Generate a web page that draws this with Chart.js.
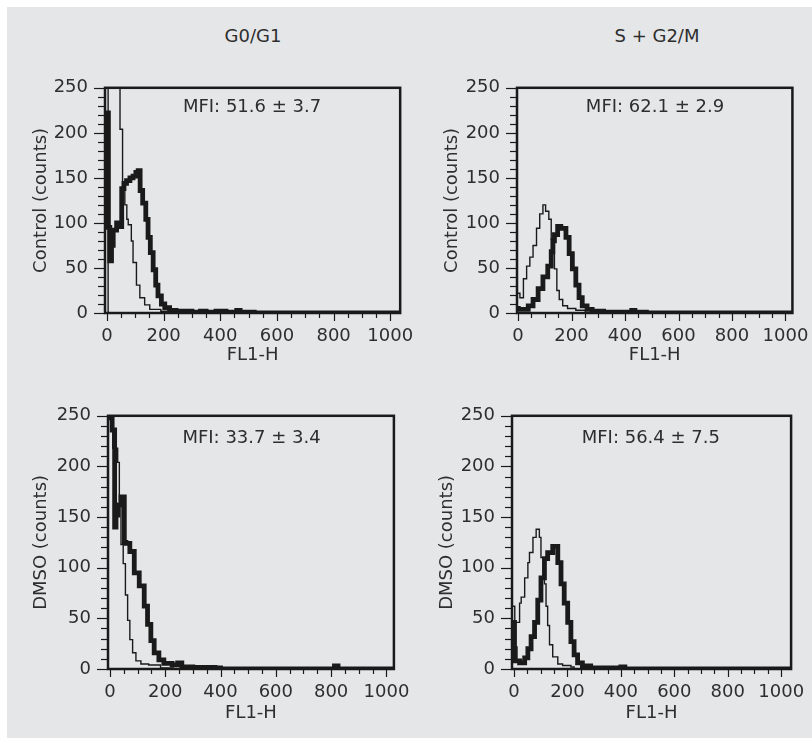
<!DOCTYPE html>
<html>
<head>
<meta charset="utf-8">
<script src="https://cdn.jsdelivr.net/npm/chart.js@4.4.0/dist/chart.umd.min.js"></script>
<style>
  html, body { margin: 0; padding: 0; background: #fff; overflow: hidden; width: 812px; height: 738px; }
  #sheet { position: absolute; left: 7px; top: 7px; width: 805px; height: 731px; background: #e5e6e8; }
  canvas { position: absolute; }
  .col { position: absolute; top: 25px; width: 200px; text-align: center; line-height: 21px;
         font: 18px "DejaVu Sans", sans-serif; color: #2e2e2e; }
</style>
</head>
<body>
<div id="sheet"></div>
<div class="col" style="left:153px">G0/G1</div>
<div class="col" style="left:557px">S + G2/M</div>
<canvas id="c1" width="407" height="310" style="left:20px;top:60px"></canvas>
<canvas id="c2" width="391" height="310" style="left:431px;top:60px"></canvas>
<canvas id="c3" width="403" height="340" style="left:20px;top:388px"></canvas>
<canvas id="c4" width="392" height="340" style="left:426px;top:388px"></canvas>
<script>
// ==================== DATA ====================
// FL1-H (start of each step) and counts
// thin = unstained, thick = stained

// Control, G0/G1
const ctlG1ThinX = [-7, 4, 46, 55, 63, 70, 75, 86, 92, 104, 116, 133, 151, 190, 227, 1035];
const ctlG1ThinY = [0, 250, 204, 140, 120, 104, 98, 80, 56, 31, 17, 9, 4, 2, 0, 0];
const ctlG1ThickX = [-7, 5, 10, 16, 22, 34, 45, 52, 60, 69, 81, 92, 102, 110, 117, 126, 137, 145, 153, 163,
  172, 180, 192, 204, 221, 244, 300, 330, 350, 385, 420, 458, 470, 520, 1035];
const ctlG1ThickY = [222, 95, 58, 75, 92, 100, 96, 138, 144, 147, 150, 152, 156, 158, 136, 122, 104, 84, 67, 48,
  31, 19, 10, 6, 3, 2, 1, 2, 1, 2, 1, 3, 1, 0, 0];

// Control, S + G2/M
const ctlSThinX = [-4, 7, 20, 32, 44, 56, 69, 81, 93, 103, 115, 124, 136, 145, 154, 167, 185, 216, 252, 1026];
const ctlSThinY = [22, 17, 38, 52, 62, 75, 94, 110, 120, 113, 104, 82, 49, 25, 15, 8, 5, 3, 0, 0];
const ctlSThickX = [-4, 1, 38, 56, 75, 93, 111, 124, 130, 136, 148, 160, 179, 191, 203, 216, 228, 240, 258, 277,
  320, 400, 425, 437, 480, 1026];
const ctlSThickY = [5, 4, 8, 15, 27, 40, 52, 68, 80, 87, 96, 94, 84, 66, 49, 31, 17, 8, 4, 2,
  1, 1, 3, 1, 0, 0];

// DMSO, G0/G1
const dmsoG1ThinX = [-7, 10, 28, 34, 40, 48, 56, 64, 72, 82, 94, 112, 140, 183, 230, 1027];
const dmsoG1ThinY = [250, 218, 204, 166, 123, 104, 73, 48, 29, 16, 8, 5, 4, 1, 0, 0];
const dmsoG1ThickX = [-7, 8, 17, 22, 29, 40, 52, 58, 72, 88, 106, 124, 136, 148, 160, 177, 195, 225, 245, 260,
  300, 380, 400, 812, 825, 1027];
const dmsoG1ThickY = [248, 236, 140, 152, 162, 170, 125, 124, 116, 95, 82, 62, 44, 28, 16, 9, 5.5, 4, 6, 2,
  1.5, 1, 0, 3, 0, 0];

// DMSO, S + G2/M
const dmsoSThinX = [-4, 3, 21, 27, 40, 52, 58, 71, 83, 95, 101, 114, 120, 126, 133, 145, 164, 182, 213, 225, 1037];
const dmsoSThinY = [62, 46, 65, 71, 90, 105, 115, 130, 138, 130, 110, 84, 62, 43, 24, 12, 5, 3.5, 2, 0, 0];
const dmsoSThickX = [-4, 2, 5, 21, 40, 52, 64, 77, 89, 101, 114, 126, 145, 164, 176, 188, 201, 213, 225, 238,
  256, 287, 330, 400, 415, 1037];
const dmsoSThickY = [46, 20, 8, 6, 11, 20, 32, 46, 68, 90, 109, 115, 121, 105, 84, 65, 46, 27, 14, 6,
  3, 1, 1, 2, 0, 0];

const xTicks = [0, 200, 400, 600, 800, 1000];
const yTicks = [0, 50, 100, 150, 200, 250];
const mfiLabels = ["MFI: 51.6 ± 3.7", "MFI: 62.1 ± 2.9", "MFI: 33.7 ± 3.4", "MFI: 56.4 ± 7.5"];

// ==================== STYLE ====================
const INK = "#1a1a1a";
const TXT = "#2e2e2e";
const FONT = { family: "'DejaVu Sans', sans-serif", size: 18, lineHeight: 1.2 };

// box round the plot, minor/major ticks and the MFI note
const frame = {
  id: "frame",
  afterDatasetsDraw(chart, args, opts) {
    const { ctx, chartArea: a, scales: { x, y } } = chart;
    ctx.save();
    ctx.strokeStyle = INK;
    ctx.lineWidth = 1.2;
    for (let v = 0; v <= 250; v += 10) {
      const py = Math.round(y.getPixelForValue(v)) + 0.5;
      const len = v % 50 === 0 ? 11 : 7;
      ctx.beginPath();
      ctx.moveTo(a.left - len, py);
      ctx.lineTo(a.left, py);
      ctx.stroke();
    }
    for (let v = 0; v <= 1000; v += 50) {
      const px = Math.round(x.getPixelForValue(v)) + 0.5;
      const len = v % 200 === 0 ? 8 : 5;
      ctx.beginPath();
      ctx.moveTo(px, a.bottom);
      ctx.lineTo(px, a.bottom + len);
      ctx.stroke();
    }
    ctx.lineWidth = 2.5;
    ctx.strokeRect(a.left, a.top, a.right - a.left, a.bottom - a.top);

    ctx.fillStyle = TXT;
    ctx.font = "18px 'DejaVu Sans', sans-serif";
    ctx.textAlign = "center";
    ctx.textBaseline = "middle";
    ctx.fillText(opts.mfi, x.getPixelForValue(512), y.getPixelForValue(228));
    ctx.restore();
  }
};

function pts(xs, ys) {
  return xs.map((x, i) => ({ x, y: ys[i] }));
}

const panels = [
  { id: "c1", yTitle: "Control (counts)", mfi: mfiLabels[0], xMin: -7, xMax: 1035, yW: 85, xH: 57,
    thin: pts(ctlG1ThinX, ctlG1ThinY), thick: pts(ctlG1ThickX, ctlG1ThickY) },
  { id: "c2", yTitle: "Control (counts)", mfi: mfiLabels[1], xMin: -4, xMax: 1026, yW: 86, xH: 57,
    thin: pts(ctlSThinX, ctlSThinY), thick: pts(ctlSThickX, ctlSThickY) },
  { id: "c3", yTitle: "DMSO (counts)", mfi: mfiLabels[2], xMin: -7, xMax: 1027, yW: 88, xH: 59,
    thin: pts(dmsoG1ThinX, dmsoG1ThinY), thick: pts(dmsoG1ThickX, dmsoG1ThickY) },
  { id: "c4", yTitle: "DMSO (counts)", mfi: mfiLabels[3], xMin: -7.4, xMax: 1037, yW: 86, xH: 59,
    thin: pts(dmsoSThinX, dmsoSThinY), thick: pts(dmsoSThickX, dmsoSThickY) }
];

// ==================== CHARTS ====================
panels.forEach(p => {
  new Chart(document.getElementById(p.id), {
    type: "line",
    data: {
      datasets: [
        { data: p.thin, borderColor: INK, borderWidth: 1.4, stepped: true, pointRadius: 0, fill: false,
          borderJoinStyle: "miter" },
        { data: p.thick, borderColor: INK, borderWidth: 4.8, stepped: true, pointRadius: 0, fill: false,
          borderJoinStyle: "miter" }
      ]
    },
    options: {
      responsive: false,
      animation: false,
      events: [],
      layout: { padding: { top: 15, right: 25, left: 0, bottom: 0 } },
      plugins: { legend: { display: false }, tooltip: { enabled: false }, frame: { mfi: p.mfi } },
      scales: {
        x: {
          type: "linear", min: p.xMin, max: p.xMax,
          grid: { display: false, drawTicks: false }, border: { display: false },
          afterBuildTicks: s => { s.ticks = xTicks.map(v => ({ value: v })); },
          afterFit: s => { s.height = p.xH; },
          ticks: { padding: 13, font: FONT, color: TXT, maxRotation: 0, autoSkip: false, callback: v => String(v) },
          title: { display: true, text: "FL1-H", font: FONT, color: TXT, padding: { top: 0, bottom: 4 } }
        },
        y: {
          type: "linear", min: 0, max: 250,
          grid: { display: false, drawTicks: false }, border: { display: false },
          afterBuildTicks: s => { s.ticks = yTicks.map(v => ({ value: v })); },
          afterFit: s => { s.width = p.yW; },
          ticks: { padding: 17, font: FONT, color: TXT, autoSkip: false, callback: v => String(v) },
          title: { display: true, text: p.yTitle, font: FONT, color: TXT, padding: { top: 11, bottom: 0 } }
        }
      }
    },
    plugins: [frame]
  });
});
</script>
</body>
</html>
